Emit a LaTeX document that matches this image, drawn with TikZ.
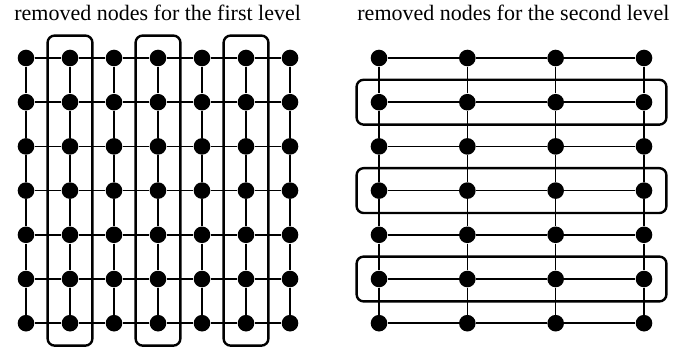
\documentclass[tikz,border=0pt]{standalone}
\usepackage{fontspec}
\setmainfont{Liberation Serif}
\usetikzlibrary{fit}
\begin{document}
\begin{tikzpicture}[x=0.5pt,y=-0.5pt,
  vertex/.style={circle,fill=black,inner sep=0pt,minimum size=8.3pt},
  link/.style={line width=0.8pt},
  group/.style={draw,line width=1.2pt,rounded corners=3.5pt,inner sep=6.85pt},
  caption/.style={anchor=base west,inner sep=0pt,font=\fontsize{11}{13}\selectfont}]
\useasboundingbox (0,0) rectangle (700,352);

% captions
\node[caption] (capL) at (14,20.7) {removed nodes for the first level};
\node[caption] (capR) at (357,20.7) {removed nodes for the second level};

% left mesh: 7 x 7
\foreach \i in {0,...,6}{
  \foreach \j in {0,...,6}{
    \node[vertex] (L-\i-\j) at ({26+44*\i},{58+44.2*\j}) {};
  }
}
\foreach \j in {0,...,6}{
  \foreach \i in {0,...,5}{
    \pgfmathtruncatemacro{\k}{\i+1}
    \draw[link] (L-\i-\j) -- (L-\k-\j);
    \draw[link] (L-\j-\i) -- (L-\j-\k);
  }
}

% right mesh: 4 columns x 7 rows
\foreach \i in {0,...,3}{
  \foreach \j in {0,...,6}{
    \node[vertex] (R-\i-\j) at ({379+88.33*\i},{58+44.2*\j}) {};
  }
}
\foreach \j in {0,...,6}{
  \foreach \i in {0,...,2}{
    \pgfmathtruncatemacro{\k}{\i+1}
    \draw[link] (R-\i-\j) -- (R-\k-\j);
  }
}
\foreach \i in {0,...,3}{
  \foreach \j in {0,...,5}{
    \pgfmathtruncatemacro{\k}{\j+1}
    \draw[link] (R-\i-\j) -- (R-\i-\k);
  }
}

% removed columns (first level) and rows (second level)
\foreach \c in {1,3,5}{
  \node[group,fit=(L-\c-0)(L-\c-6)] (colbox-\c) {};
}
\foreach \r in {1,3,5}{
  \node[group,fit=(R-0-\r)(R-3-\r)] (rowbox-\r) {};
}
\end{tikzpicture}
\end{document}
